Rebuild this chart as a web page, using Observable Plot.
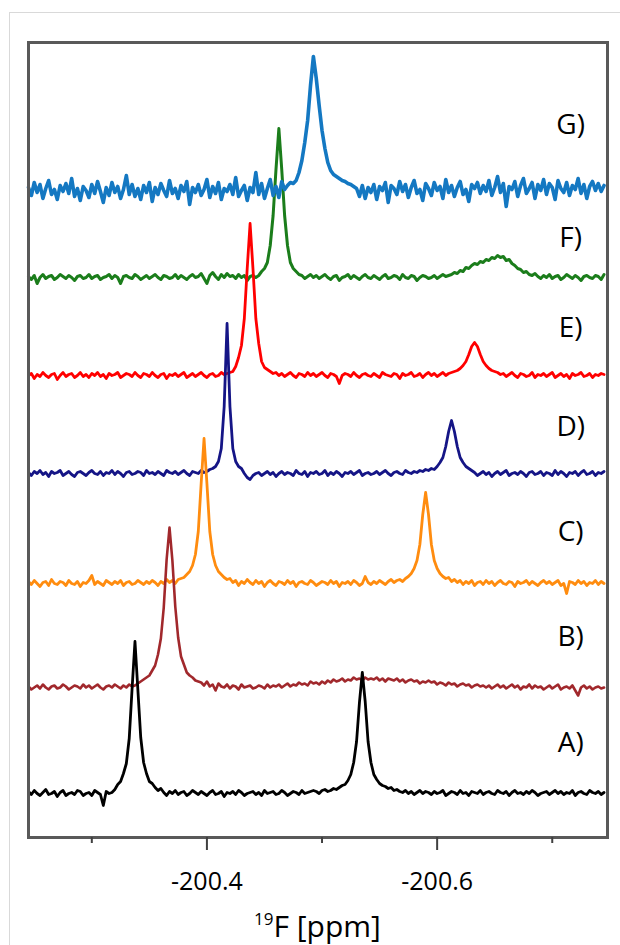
<!DOCTYPE html>
<html>
<head>
<meta charset="utf-8">
<script src="https://cdn.jsdelivr.net/npm/d3@7"></script>
<script src="https://cdn.jsdelivr.net/npm/@observablehq/plot@0.6"></script>
<style>
  body { margin: 0; background: #fff; }
  #wrap { position: relative; width: 620px; height: 945px; overflow: hidden; }
  #edge { position: absolute; left: 9px; top: 12px; right: 0; bottom: 0;
          border-top: 1px solid #d9d9d9; border-left: 1px solid #d9d9d9; pointer-events: none; }
</style>
</head>
<body>
<div id="wrap"><div id="edge"></div></div>
<script>
// ---- data -------------------------------------------------------------
// Spectra sampled on a uniform chemical-shift grid (ppm), 201 points each.
const ppmStart = -200.245;
const ppmStep = -0.0025;

const seriesNames = ["A)", "B)", "C)", "D)", "E)", "F)", "G)"];
// vertical stacking offset of each spectrum (intensity units)
const offsets = [44, 150, 254, 364, 462, 560, 647];
// y of each series label (intensity units) and their shift position (ppm)
const labelY = [94, 200, 305, 410, 509, 599, 712];
const labelPpm = -200.716;

const majorTicks = [-200.4, -200.6];
const minorTicks = [-200.3, -200.5, -200.7];

const traceA = [
  2,-1,3,0,-2,1,4,-1,0,2,-3,1,3,-2,0,1,-1,3,2,-2,
  0,1,-2,3,1,-1,-12,2,0,1,4,9,12,20,30,55,105,152,104,56,
  31,20,12,10,6,3,5,1,-2,2,0,3,-1,1,2,-2,0,3,1,-1,
  2,0,-2,1,3,-1,0,2,-3,1,0,2,-1,3,1,-2,0,1,2,-1,
  1,-2,3,0,1,2,-1,0,3,1,-2,0,2,1,-1,3,0,1,2,3,
  2,0,3,4,2,3,5,4,6,8,9,13,19,31,52,91,121,92,52,31,
  19,14,10,8,7,5,6,3,4,2,1,3,0,2,-1,1,3,0,2,1,
  -1,2,0,1,3,-2,0,2,1,-1,3,0,1,-2,2,1,0,3,-1,1,
  2,0,-1,3,1,0,2,-2,1,3,0,1,-1,2,0,3,1,-2,0,1,
  2,-1,1,3,0,2,-1,1,0,3,-2,1,2,0,-1,3,1,0,2,-1,1
];
const traceB = [
  1,-2,0,2,-1,3,0,-2,1,2,-1,0,3,1,-2,0,2,1,-1,3,
  0,2,-1,1,3,0,-2,1,2,0,3,1,-1,2,0,3,1,2,4,6,
  8,10,12,17,22,33,49,80,128,160,127,81,50,31,23,15,12,10,7,6,
  5,2,6,1,3,-3,4,1,0,3,-1,2,1,-2,3,0,1,2,-1,0,
  2,1,-1,3,0,2,1,3,0,2,4,1,3,2,5,3,4,2,6,4,
  5,3,6,4,7,5,8,6,7,9,6,8,7,10,8,9,7,10,8,9,
  8,10,7,9,6,9,8,7,9,6,8,5,7,8,6,7,4,6,5,7,
  5,6,3,5,4,2,5,3,4,1,3,4,2,3,0,2,3,1,2,0,
  2,-1,1,3,0,2,-1,1,3,0,2,-2,1,0,3,-1,2,0,1,-2,
  0,2,-1,1,3,-2,0,1,-1,2,-3,-8,0,2,-1,1,-2,0,1,-1,0
];
const traceC = [
  2,-1,3,0,-3,1,2,-2,4,0,-1,2,1,-2,3,0,-1,2,-3,1,
  0,3,8,-1,2,0,-2,3,1,-1,2,0,3,-2,1,2,-1,0,3,1,
  -1,2,0,3,1,-2,2,0,4,1,3,0,4,5,6,9,12,18,29,52,
  100,145,100,52,29,18,12,9,6,4,5,1,3,-2,2,0,4,1,-1,3,
  0,2,-3,1,3,0,-2,2,1,-1,3,0,2,-3,1,2,0,-1,3,1,
  -2,0,2,1,-1,3,0,2,-3,1,0,2,-1,3,1,-2,0,7,1,-1,
  2,0,3,1,-1,2,4,1,3,4,2,5,7,10,15,23,39,69,91,69,
  39,23,15,10,7,5,6,2,4,1,3,-1,2,0,3,-2,1,2,-1,3,
  0,2,-2,1,3,0,-1,2,1,-3,2,0,1,3,-1,2,0,-2,1,3,
  0,2,-1,1,3,-2,0,-10,2,1,-1,3,0,2,-2,1,0,3,-1,2,0
];
const traceD = [
  1,-2,2,0,3,-1,1,-3,2,0,1,3,-2,0,2,-1,-3,1,2,0,
  -2,1,3,0,-1,2,-2,1,0,3,-1,2,0,-3,1,2,-1,0,2,1,
  -2,3,0,1,-1,2,0,-2,3,1,0,2,-1,1,3,0,-2,2,1,0,
  3,1,2,4,5,7,12,25,67,150,67,25,12,7,5,0,-4,-6,-2,0,
  1,-2,0,2,-1,1,-3,0,2,-1,1,0,-2,3,0,-1,2,-3,1,0,
  2,-1,0,3,-2,1,-1,2,0,-3,1,0,2,-1,1,3,-2,0,1,-1,
  0,2,-1,1,3,0,-2,1,2,0,-1,3,1,0,2,1,3,2,4,3,
  5,4,7,11,16,27,42,53,42,27,16,11,7,5,3,1,-2,0,2,-1,
  1,-3,0,2,-1,1,3,-2,0,1,-1,2,0,-3,1,2,-1,0,2,-2,
  1,0,-2,3,-1,2,0,-3,1,0,2,-2,1,3,-1,0,2,-2,1,0,2
];
const traceE = [
  0,2,-3,1,-1,3,0,-2,1,2,-4,0,3,-1,1,2,-2,0,3,-1,
  1,-2,2,0,3,-1,1,-3,2,0,1,3,-2,0,2,1,-1,3,0,-2,
  2,1,-1,3,0,-2,1,2,-3,1,0,2,-1,1,3,-2,0,2,-1,1,
  3,0,-2,1,2,-1,0,3,1,2,3,4,9,18,30,57,107,152,107,57,
  32,14,8,6,4,2,3,0,2,-1,1,3,0,-2,2,1,-1,3,0,2,
  -1,1,3,0,-2,2,1,-1,-8,0,2,1,-1,3,0,-2,1,2,0,-1,
  2,0,-2,3,1,0,-1,2,1,-3,2,0,1,3,-1,0,2,-2,1,3,
  0,2,-1,1,3,0,2,3,4,5,7,10,14,21,29,33,29,21,14,10,
  7,5,4,3,1,2,-1,1,3,0,-2,2,1,-1,0,3,-2,1,0,2,
  -1,1,3,-2,0,2,-1,1,-3,2,0,1,3,-1,0,2,-2,1,0,2,1
];
const traceF = [
  1,-2,2,-6,0,3,-1,1,2,-2,0,3,1,-1,2,0,-3,1,2,-1,
  0,3,-1,1,2,-2,0,1,3,-1,2,0,-6,1,2,0,-1,3,1,-2,
  0,2,-1,1,3,0,-2,2,1,-1,0,3,-1,2,0,-2,1,3,0,1,
  4,-1,-6,2,5,1,-2,3,0,4,1,2,-1,3,0,2,-3,1,2,0,
  2,6,9,15,32,62,108,149,108,62,32,15,9,6,3,2,-1,1,3,0,
  2,-1,1,3,0,-2,1,2,-3,0,1,3,-1,2,0,-2,1,3,0,-1,
  2,0,-2,1,3,-1,0,2,1,-2,3,0,-1,2,1,-3,0,2,1,-1,
  0,2,-1,1,3,1,2,3,5,4,7,6,10,9,12,14,13,16,15,18,
  17,20,19,22,20,21,17,18,14,12,9,8,5,6,3,2,4,1,-1,2,
  0,3,-1,1,2,-2,0,3,1,-1,2,0,-3,1,2,0,-1,2,1,-2,3
];
const traceG = [
  3,-5,8,-2,6,-8,2,10,-4,1,-9,5,-1,7,-3,12,-6,2,-10,4,
  0,-7,6,-3,9,-1,-12,3,-5,8,-2,4,-8,1,15,-4,6,-6,2,-9,
  5,-2,8,-11,3,-4,7,0,-6,10,-3,2,-8,5,-1,9,-14,3,-2,6,
  -5,1,11,-7,4,-3,8,-9,2,-1,6,-4,13,-6,0,5,-10,3,-2,18,
  -4,7,-8,2,11,-5,4,-7,9,1,5,8,7,10,18,30,48,70,105,134,
  112,85,60,42,28,20,16,14,12,10,9,7,6,4,2,-6,5,-8,3,-2,
  6,-9,4,0,8,-12,5,2,-4,9,-1,6,-7,3,10,-3,1,-10,7,2,
  -5,8,0,4,-8,11,-2,5,-6,3,9,-4,1,-11,6,2,8,-3,5,-1,
  10,-5,3,14,-2,7,-16,4,1,9,-6,5,12,-3,2,8,-8,6,0,11,
  -4,7,3,-9,10,2,-2,8,-5,5,1,12,-3,6,-8,4,9,0,7,-1,5
];

// ---- styles -----------------------------------------------------------
const colors = ["#000000", "#a1282c", "#ff8c0f", "#151586", "#ff0000", "#1b7d1b", "#1478c2"];
const widths = [2.8, 2.6, 2.8, 2.8, 2.8, 3.0, 3.6];
const drawOrder = [5, 4, 3, 2, 1, 0, 6];
const fontFamily = "'Open Sans', 'DejaVu Sans', sans-serif";

// ---- build ------------------------------------------------------------
const traces = [traceA, traceB, traceC, traceD, traceE, traceF, traceG];
traces.forEach((t, k) => { if (t.length !== 201) throw new Error(seriesNames[k] + " has " + t.length); });

const rows = [];
traces.forEach((vals, k) => vals.forEach((v, i) => {
  rows.push({k, series: seriesNames[k], ppm: ppmStart + ppmStep * i, value: offsets[k] + v});
}));

const chart = Plot.plot({
  width: 620,
  height: 945,
  marginLeft: 28,
  marginRight: 13,
  marginTop: 42,
  marginBottom: 108,
  style: {fontFamily, background: "transparent", color: "#000"},
  x: {domain: [-200.245, -200.748]},
  y: {domain: [0, 795], axis: null},
  marks: [
    ...drawOrder.map(k => Plot.line(rows.filter(r => r.k === k), {
      x: "ppm", y: "value", stroke: colors[k], strokeWidth: widths[k],
      strokeLinejoin: "round", strokeLinecap: "round"
    })),
    Plot.text(seriesNames, {
      x: () => labelPpm, y: (d, i) => labelY[i], text: d => d,
      fontSize: 28, fill: "#000", textAnchor: "middle"
    }),
    Plot.frame({stroke: "#595959", strokeWidth: 3}),
    Plot.axisX({ticks: majorTicks, tickSize: 13, tickPadding: 22, tickFormat: d => d.toFixed(1),
      fontSize: 25, label: null, stroke: "#404040", fill: "#000", strokeWidth: 2}),
    Plot.axisX({ticks: minorTicks, tickSize: 6, tickFormat: () => "", label: null,
      stroke: "#404040", strokeWidth: 2})
  ]
});

const wrap = document.getElementById("wrap");
wrap.insertBefore(chart, document.getElementById("edge"));

// axis title with superscript isotope number
const xs = chart.scale("x");
const cx = (xs.range[0] + xs.range[1]) / 2;
const title = d3.select(chart).append("text")
  .attr("x", cx).attr("y", 937)
  .attr("text-anchor", "middle")
  .attr("font-family", fontFamily)
  .attr("font-size", 30)
  .attr("fill", "#000");
title.append("tspan").attr("font-size", 17).attr("dy", -12).text("19");
title.append("tspan").attr("dy", 12).text("F [ppm]");
</script>
</body>
</html>
